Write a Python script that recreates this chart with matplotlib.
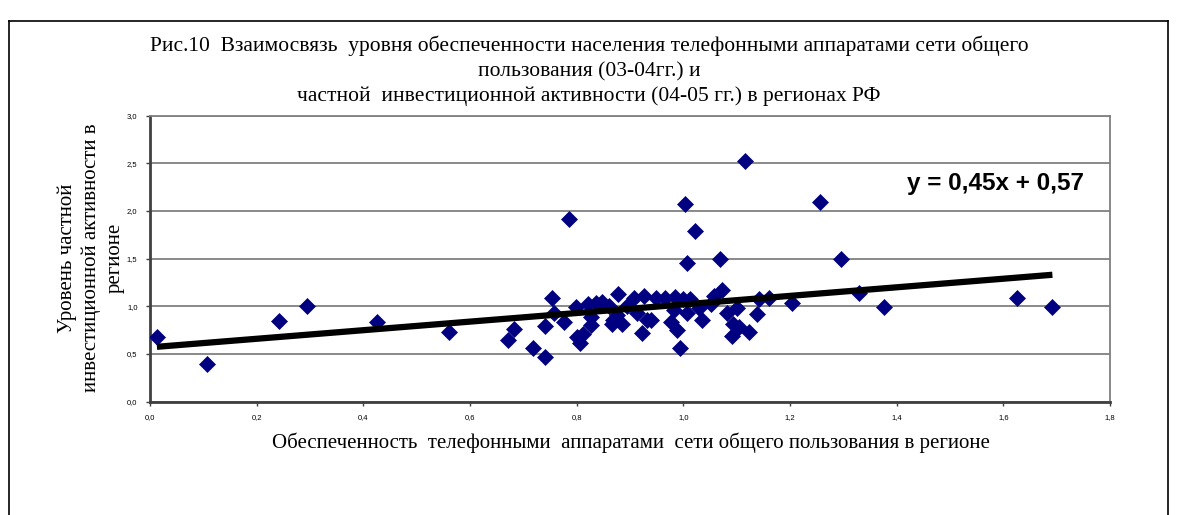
import matplotlib.pyplot as plt
import numpy as np
from matplotlib.ticker import FuncFormatter, MultipleLocator

# telephone provision (x) vs private investment activity (y) by region
phones = [0.013, 0.106, 0.241, 0.294, 0.425, 0.560, 0.672, 0.683, 0.718, 0.740,
          0.741, 0.754, 0.757, 0.777, 0.785, 0.798, 0.800, 0.807, 0.812, 0.821,
          0.826, 0.826, 0.837, 0.847, 0.860, 0.866, 0.869, 0.877, 0.875, 0.885,
          0.894, 0.907, 0.913, 0.922, 0.926, 0.932, 0.940, 0.948, 0.966, 0.976,
          0.983, 0.985, 0.988, 0.993, 1.000, 1.004, 1.007, 1.007, 1.013, 1.021,
          1.029, 1.035, 1.052, 1.057, 1.069, 1.073, 1.081, 1.091, 1.094, 1.100,
          1.104, 1.115, 1.123, 1.138, 1.141, 1.160, 1.204, 1.257, 1.295, 1.329,
          1.376, 1.625, 1.692]
invest = [0.68, 0.40, 0.85, 1.00, 0.84, 0.73, 0.65, 0.76, 0.56, 0.79,
          0.47, 1.09, 0.93, 0.84, 1.92, 0.99, 0.68, 0.62, 0.71, 1.02,
          0.89, 0.80, 1.04, 1.05, 1.00, 0.82, 0.86, 1.13, 0.91, 0.82,
          1.00, 1.09, 0.93, 0.72, 1.11, 0.86, 0.86, 1.09, 1.09, 0.84,
          0.96, 1.10, 0.75, 0.56, 1.08, 2.07, 1.45, 0.93, 1.08, 1.79,
          0.98, 0.86, 1.03, 1.11, 1.50, 1.17, 0.93, 0.69, 0.82, 0.98,
          0.78, 2.53, 0.73, 0.92, 1.08, 1.09, 1.04, 2.10, 1.50, 1.14,
          0.99, 1.09, 0.99]

slope, intercept = 0.45, 0.57

fig = plt.figure(figsize=(11.89, 5.15), dpi=100)
W, H = 1189, 515

# frame around the whole chart
fig.add_artist(plt.Line2D([9 / W, 9 / W], [0, 1 - 21 / H], color='black', lw=1.2))
fig.add_artist(plt.Line2D([9 / W, 1168 / W], [1 - 21 / H, 1 - 21 / H], color='black', lw=1.2))
fig.add_artist(plt.Line2D([1168 / W, 1168 / W], [0, 1 - 21 / H], color='black', lw=1.2))

ax = fig.add_axes([150 / W, 1 - 401.7 / H, 960 / W, 286 / H])

x = np.array(phones)
y = np.array(invest)
ax.scatter(x, y, marker='D', s=66, color='#000080', edgecolors='#000080',
           linewidths=0.5, zorder=3)

xl = np.array([x.min(), x.max()])
ax.plot(xl, slope * xl + intercept, color='black', lw=4.5, zorder=4,
        solid_capstyle='butt')

ax.set_xlim(0, 1.8)
ax.set_ylim(0, 3.0)
ax.xaxis.set_major_locator(MultipleLocator(0.2))
ax.yaxis.set_major_locator(MultipleLocator(0.5))
fmt = FuncFormatter(lambda v, p: f'{v:.1f}'.replace('.', ','))
ax.xaxis.set_major_formatter(fmt)
ax.yaxis.set_major_formatter(fmt)
ax.grid(axis='y', color='#808080', lw=1.3)
ax.set_axisbelow(True)
for side in ['top', 'right']:
    ax.spines[side].set_color('#808080')
    ax.spines[side].set_linewidth(1.3)
for side in ['left', 'bottom']:
    ax.spines[side].set_color('#404040')
    ax.spines[side].set_linewidth(2)
ax.tick_params(labelsize=5.5, length=3, width=1, color='#404040', pad=6)
for lab in ax.get_xticklabels() + ax.get_yticklabels():
    lab.set_family('Liberation Sans')

ax.text(1.42, 2.29, 'y = 0,45x + 0,57', fontsize=17.5, fontweight='bold',
        family='Liberation Sans', va='center', ha='left')

serif = 'Liberation Serif'
title_lines = ['Рис.10  Взаимосвязь  уровня обеспеченности населения телефонными аппаратами сети общего',
               'пользования (03-04гг.) и',
               'частной  инвестиционной активности (04-05 гг.) в регионах РФ']
for i, line in enumerate(title_lines):
    fig.text(589 / W, 1 - (51 + 25 * i) / H, line, family=serif, fontsize=15.5,
             ha='center', va='baseline')

fig.text(91 / W, 1 - 258 / H, 'Уровень частной\nинвестиционной активности в\nрегионе',
         family=serif, fontsize=15, rotation=90, ha='center', va='center',
         multialignment='center', linespacing=1.35)

fig.text(631 / W, 1 - 443 / H,
         'Обеспеченность  телефонными  аппаратами  сети общего пользования в регионе',
         family=serif, fontsize=15, ha='center', va='center')

fig.savefig('out.png', dpi=100)
